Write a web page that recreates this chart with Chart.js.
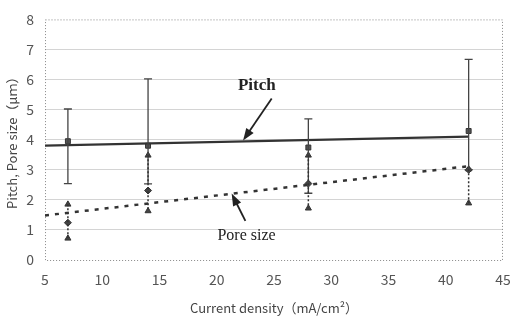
<!DOCTYPE html>
<html>
<head>
<meta charset="utf-8">
<script src="https://cdn.jsdelivr.net/npm/chart.js@4/dist/chart.umd.min.js"></script>
<style>
  body { margin: 0; background: #fff; }
  #wrap { width: 511px; height: 323px; }
</style>
</head>
<body>
<div id="wrap"><canvas id="pitch" width="511" height="323"></canvas></div>
<script>
// current density (mA/cm2)
var density = [7, 14, 28, 42];
// pitch: mean with max / min
var pitchMean = [3.95, 3.8, 3.74, 4.29];
var pitchMax = [5.02, 6.02, 4.69, 6.67];
var pitchMin = [2.54, 2.53, 2.22, 3.0];
// pore size: mean with max / min
var poreMean = [1.24, 2.31, 2.54, 3.0];
var poreMax = [1.85, 3.48, 3.48, 3.02];
var poreMin = [0.72, 1.63, 1.72, 1.89];
// linear trend lines (end points)
var trendX = [5, 42];
var pitchTrend = [3.8, 4.1];
var poreTrend = [1.48, 3.12];
var xTicks = [5, 10, 15, 20, 25, 30, 35, 40, 45];
var yTicks = [0, 1, 2, 3, 4, 5, 6, 7, 8];

function pts(xs, ys) {
  return xs.map(function (x, i) { return { x: x, y: ys[i] }; });
}

var errorBars = {
  id: 'errorBars',
  afterDatasetsDraw: function (chart) {
    var c = chart.ctx, xs = chart.scales.x, ys = chart.scales.y;
    c.save();
    // pitch: solid bars with caps
    c.strokeStyle = '#444';
    c.lineWidth = 1.3;
    density.forEach(function (d, i) {
      var px = xs.getPixelForValue(d);
      var top = ys.getPixelForValue(pitchMax[i]), bot = ys.getPixelForValue(pitchMin[i]);
      c.beginPath();
      c.moveTo(px, top); c.lineTo(px, bot);
      c.moveTo(px - 4, top); c.lineTo(px + 4, top);
      c.moveTo(px - 4, bot); c.lineTo(px + 4, bot);
      c.stroke();
    });
    // pore size: dotted range
    c.setLineDash([2, 2]);
    c.strokeStyle = '#333';
    c.lineWidth = 1.5;
    density.forEach(function (d, i) {
      var px = xs.getPixelForValue(d);
      c.beginPath();
      c.moveTo(px, ys.getPixelForValue(poreMax[i]));
      c.lineTo(px, ys.getPixelForValue(poreMin[i]));
      c.stroke();
    });
    c.restore();
  }
};

var frame = {
  id: 'frame',
  beforeDatasetsDraw: function (chart) {
    var c = chart.ctx, a = chart.chartArea;
    c.save();
    c.strokeStyle = '#888';
    c.lineWidth = 1;
    c.setLineDash([1, 2]);
    c.strokeRect(a.left + 0.5, a.top + 0.5, a.right - a.left - 1, a.bottom - a.top);
    c.restore();
  }
};

// labels with arrows, placed in data units
var notes = [
  { text: 'Pitch', at: [23.5, 5.79], from: [24.8, 5.37], to: [22.3, 3.97], font: 'bold 17px "Liberation Serif", serif' },
  { text: 'Pore size', at: [22.6, 0.81], from: [22.5, 1.3], to: [21.3, 2.21], font: '16px "Liberation Serif", serif' }
];

var arrows = {
  id: 'arrows',
  afterDraw: function (chart) {
    var c = chart.ctx, xs = chart.scales.x, ys = chart.scales.y;
    c.save();
    notes.forEach(function (n) {
      c.fillStyle = '#222';
      c.font = n.font;
      c.textAlign = 'center';
      c.textBaseline = 'middle';
      c.fillText(n.text, xs.getPixelForValue(n.at[0]), ys.getPixelForValue(n.at[1]));
      var x1 = xs.getPixelForValue(n.from[0]), y1 = ys.getPixelForValue(n.from[1]);
      var x2 = xs.getPixelForValue(n.to[0]), y2 = ys.getPixelForValue(n.to[1]);
      var ang = Math.atan2(y2 - y1, x2 - x1);
      c.strokeStyle = '#222';
      c.lineWidth = 1.8;
      c.beginPath();
      c.moveTo(x1, y1);
      c.lineTo(x2 - 10 * Math.cos(ang), y2 - 10 * Math.sin(ang));
      c.stroke();
      c.beginPath();
      c.moveTo(x2, y2);
      c.lineTo(x2 - 13 * Math.cos(ang - 0.35), y2 - 13 * Math.sin(ang - 0.35));
      c.lineTo(x2 - 13 * Math.cos(ang + 0.35), y2 - 13 * Math.sin(ang + 0.35));
      c.closePath();
      c.fill();
    });
    c.restore();
  }
};

var ctx = document.getElementById('pitch');
var chart = new Chart(ctx, {
  type: 'scatter',
  data: {
    datasets: [{
      label: 'Pitch trend',
      type: 'line',
      data: pts(trendX, pitchTrend),
      borderColor: '#333',
      borderWidth: 2.2,
      pointRadius: 0
    }, {
      label: 'Pore size trend',
      type: 'line',
      data: pts(trendX, poreTrend),
      borderColor: '#333',
      borderWidth: 2.5,
      borderDash: [4, 6],
      pointRadius: 0
    }, {
      label: 'Pitch',
      data: pts(density, pitchMean),
      pointStyle: 'rect',
      pointRadius: 3.5,
      backgroundColor: '#555',
      borderColor: '#333',
      borderWidth: 1
    }, {
      label: 'Pore size',
      data: pts(density, poreMean),
      pointStyle: 'rectRot',
      pointRadius: 3.5,
      backgroundColor: '#444',
      borderColor: '#333',
      borderWidth: 1
    }, {
      label: 'Pore max',
      data: pts(density, poreMax),
      pointStyle: 'triangle',
      pointRadius: 3.5,
      backgroundColor: '#444',
      borderColor: '#333',
      borderWidth: 1
    }, {
      label: 'Pore min',
      data: pts(density, poreMin),
      pointStyle: 'triangle',
      pointRadius: 3.5,
      backgroundColor: '#444',
      borderColor: '#333',
      borderWidth: 1
    }]
  },
  options: {
    responsive: false,
    animation: false,
    layout: { padding: { top: 14, right: 0, left: 0, bottom: 3 } },
    plugins: {
      legend: { display: false },
      tooltip: { enabled: false }
    },
    scales: {
      x: {
        type: 'linear',
        min: 5, max: 45,
        afterBuildTicks: function (s) { s.ticks = xTicks.map(function (v) { return { value: v }; }); },
        afterFit: function (s) { s.height = 60; s.paddingRight = 8; s.paddingLeft = 0; },
        grid: { display: false, drawTicks: false },
        border: { display: false },
        ticks: { color: '#555', font: { family: '"Noto Sans CJK JP", sans-serif', size: 14 }, padding: 11, maxRotation: 0 },
        title: {
          display: true,
          text: 'Current density（mA/cm²）',
          color: '#444',
          font: { family: '"Noto Sans CJK JP", sans-serif', size: 13 },
          padding: { top: 0 }
        }
      },
      y: {
        min: 0, max: 8,
        afterBuildTicks: function (s) { s.ticks = yTicks.map(function (v) { return { value: v }; }); },
        afterFit: function (s) { s.width = 45; },
        grid: {
          drawTicks: false,
          color: function (c) { return (c.tick.value === 0 || c.tick.value === 8) ? 'rgba(0,0,0,0)' : '#d4d4d4'; }
        },
        border: { display: false },
        ticks: { color: '#555', font: { family: '"Noto Sans CJK JP", sans-serif', size: 14 }, padding: 11 },
        title: {
          display: true,
          text: 'Pitch, Pore size（μｍ）',
          color: '#444',
          font: { family: '"Noto Sans CJK JP", sans-serif', size: 13 },
          padding: { bottom: 0 }
        }
      }
    }
  },
  plugins: [frame, errorBars, arrows]
});
</script>
</body>
</html>
